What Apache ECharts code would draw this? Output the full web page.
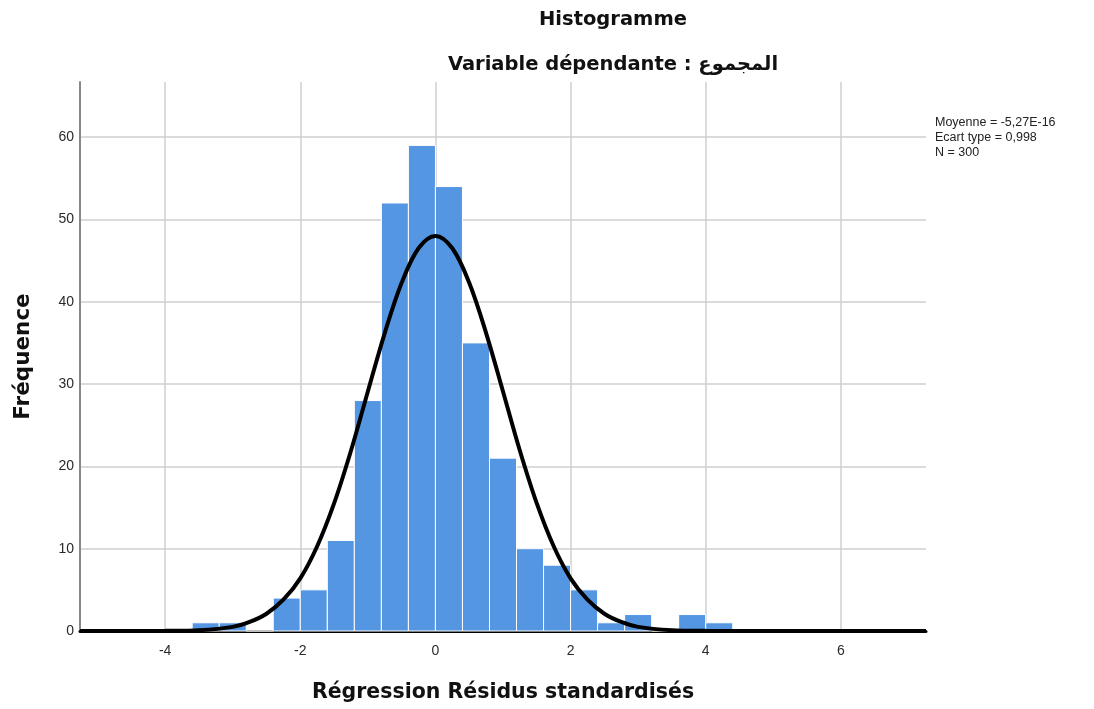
<!DOCTYPE html>
<html><head><meta charset="utf-8">
<script src="https://cdn.jsdelivr.net/npm/echarts@6/dist/echarts.min.js"></script>
<style>html,body{margin:0;padding:0;background:#fff}#c{width:1094px;height:709px}</style>
</head><body><div id="c"></div>
<script>
// Histogram bins (lower edge) and frequencies
const binWidth = 0.4;
const binLower = [-3.6, -3.2, -2.8, -2.4, -2.0, -1.6, -1.2, -0.8, -0.4, 0.0, 0.4, 0.8, 1.2, 1.6, 2.0, 2.4, 2.8, 3.2, 3.6, 4.0];
const counts   = [1, 1, 0, 4, 5, 11, 28, 52, 59, 54, 35, 21, 10, 8, 5, 1, 2, 0, 2, 1];
// Normal curve, points
const curveX = [-5.26, -4.5, -4, -3.5, -3, -2.75, -2.5, -2.25, -2, -1.75, -1.5, -1.25, -1, -0.75, -0.5, -0.25, 0, 0.25, 0.5, 0.75, 1, 1.25, 1.5, 1.75, 2, 2.25, 2.5, 2.75, 3, 3.5, 4, 4.5, 5, 6, 7.26];
const curveY = [0, 0, 0.02, 0.1, 0.5, 1.1, 2.1, 3.8, 6.4, 10.3, 15.5, 21.9, 29.1, 36.2, 42.3, 46.5, 48, 46.5, 42.3, 36.2, 29.1, 21.9, 15.5, 10.3, 6.4, 3.8, 2.1, 1.1, 0.5, 0.1, 0.02, 0, 0, 0, 0];
const statLines = ["Moyenne = -5,27E-16", "Ecart type = 0,998", "N = 300"];
const titleText = "Histogramme";
const subtitleText = "Variable dépendante : المجموع";
const xName = "Régression Résidus standardisés";
const yName = "Fréquence";

const FONT = "Arial, 'Liberation Sans', 'DejaVu Sans', sans-serif";
const BOLD = "'DejaVu Sans', Arial, sans-serif";
const chart = echarts.init(document.getElementById('c'));
const barData = binLower.map((l, i) => [l, l + binWidth, counts[i]]);
const curveData = curveX.map((x, i) => [x, curveY[i]]);

chart.setOption({
  animation: false,
  backgroundColor: '#fff',
  textStyle: { fontFamily: FONT },
  grid: { left: 80, width: 846, top: 82, height: 549 },
  graphic: [
    { type: 'text', x: 613, y: 20, style: { text: titleText, font: 'bold 19.5px ' + BOLD, fill: '#111', align: 'center', verticalAlign: 'middle' } },
    { type: 'text', x: 613, y: 65, style: { text: subtitleText, font: 'bold 19.5px ' + BOLD, fill: '#111', align: 'center', verticalAlign: 'middle' } },
    { type: 'text', x: 935, y: 115, style: { text: statLines.join('\n'), font: '12.5px ' + FONT, fill: '#222', lineHeight: 15 } }
  ],
  xAxis: {
    type: 'value', min: -5.26, max: 7.26, splitNumber: 6, minInterval: 2, maxInterval: 2,
    name: xName, nameLocation: 'middle', nameGap: 51,
    nameTextStyle: { fontSize: 20.5, fontWeight: 'bold', fontFamily: BOLD, color: '#111' },
    axisLine: { show: true, onZero: false, lineStyle: { color: '#000', width: 3 } },
    axisTick: { show: false },
    axisLabel: { color: '#2a2a2a', fontSize: 14, margin: 13, showMinLabel: false, showMaxLabel: false },
    splitLine: { show: true, showMinLine: false, showMaxLine: false, lineStyle: { color: '#cfcfcf', width: 1.5 } }
  },
  yAxis: {
    type: 'value', min: 0, max: 66.7, interval: 10,
    name: yName, nameLocation: 'middle', nameGap: 46, nameRotate: 90,
    nameTextStyle: { fontSize: 21.5, fontWeight: 'bold', fontFamily: BOLD, color: '#111' },
    axisLine: { show: true, onZero: false, lineStyle: { color: '#888', width: 2 } },
    axisTick: { show: false },
    axisLabel: { color: '#2a2a2a', fontSize: 14, margin: 6, showMaxLabel: false, padding: [6, 0, 0, 0] },
    splitLine: { show: true, showMinLine: false, showMaxLine: false, lineStyle: { color: '#cfcfcf', width: 1.5 } }
  },
  series: [
    {
      type: 'custom', z: 2,
      data: barData,
      encode: { x: [0, 1], y: 2 },
      renderItem: function (params, api) {
        const p0 = api.coord([api.value(0), api.value(2)]);
        const p1 = api.coord([api.value(1), 0]);
        return {
          type: 'rect',
          shape: { x: p0[0], y: p0[1], width: p1[0] - p0[0], height: p1[1] - p0[1] },
          style: { fill: '#5596e3', stroke: '#ffffff', lineWidth: 1 }
        };
      }
    },
    {
      type: 'line', z: 5, smooth: 0.35, symbol: 'none',
      data: curveData,
      lineStyle: { color: '#000', width: 4 }
    }
  ]
});
</script></body></html>
